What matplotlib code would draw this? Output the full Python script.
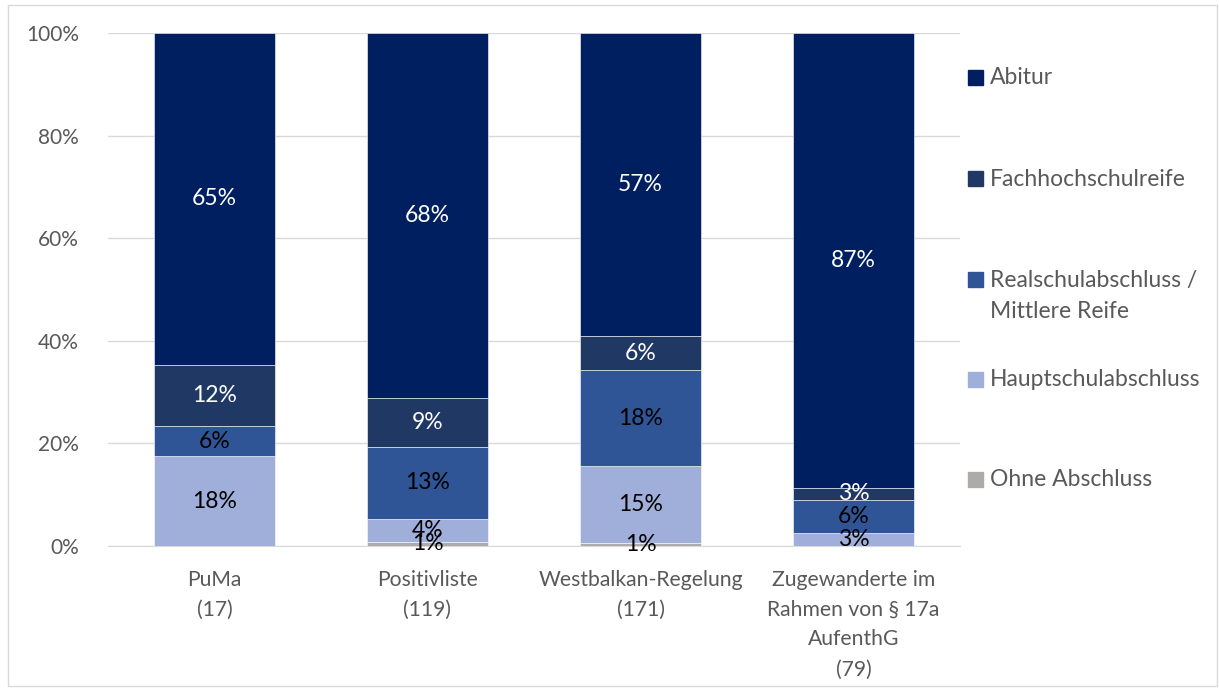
import matplotlib.pyplot as plt
from matplotlib.patches import Rectangle
import numpy as np

plt.rcParams['font.family'] = ['Lato', 'DejaVu Sans']

categories = ['PuMa\n(17)', 'Positivliste\n(119)', 'Westbalkan-Regelung\n(171)',
              'Zugewanderte im\nRahmen von § 17a\nAufenthG\n(79)']
series = ['Ohne Abschluss', 'Hauptschulabschluss', 'Realschulabschluss /\nMittlere Reife',
          'Fachhochschulreife', 'Abitur']

# segment heights (share in %)
ohne = [0.0, 0.8, 0.6, 0.0]
haupt = [17.5, 4.5, 15.0, 2.5]
real = [5.9, 14.0, 18.7, 6.4]
fh = [11.9, 9.5, 6.6, 2.5]
abitur = [64.7, 71.2, 59.1, 88.6]

# printed data labels
ohne_lbl = [None, 1, 1, None]
haupt_lbl = [18, 4, 15, 3]
real_lbl = [6, 13, 18, 6]
fh_lbl = [12, 9, 6, 3]
abitur_lbl = [65, 68, 57, 87]

colors = ['#AEAAAA', '#A0AFDA', '#2F5597', '#203864', '#001F60']
label_colors = ['black', 'black', 'black', 'white', 'white']
text_grey = '#595959'

fig = plt.figure(figsize=(12.19, 6.88), dpi=100)
ax = fig.add_axes([108 / 1219, 1 - 546 / 688, 852 / 1219, 513 / 688])

x = np.arange(len(categories))
bottom = np.zeros(len(categories))
for vals, lbls, col, lcol in zip([ohne, haupt, real, fh, abitur],
                                 [ohne_lbl, haupt_lbl, real_lbl, fh_lbl, abitur_lbl],
                                 colors, label_colors):
    vals = np.array(vals)
    ax.bar(x, vals, width=0.57, bottom=bottom, color=col, edgecolor='#FFFFFF',
           linewidth=0.4, zorder=3)
    for xi, b, v, l in zip(x, bottom, vals, lbls):
        if l is not None:
            ax.text(xi, b + v / 2, f'{l}%', ha='center', va='center',
                    color=lcol, fontsize=16.5, zorder=4)
    bottom += vals

ax.set_xlim(-0.5, 3.5)
ax.set_ylim(0, 100)
ax.set_yticks(np.arange(0, 101, 20))
ax.set_yticklabels([f'{v}%' for v in range(0, 101, 20)])
ax.grid(axis='y', color='#D9D9D9', linewidth=1, zorder=0)
for s in ['top', 'right', 'left']:
    ax.spines[s].set_visible(False)
ax.spines['bottom'].set_color('#D9D9D9')
ax.tick_params(axis='y', length=0, pad=21, labelsize=15, labelcolor=text_grey)
ax.set_xticks(x)
ax.set_xticklabels(categories, fontsize=15.2, color=text_grey, linespacing=1.62)
ax.tick_params(axis='x', length=0, pad=17)

# legend, top entry first; multi-line names get one text per line
legend_y = [78, 179, 280, 380, 480]
for name, col, ly in zip(series[::-1], colors[::-1], legend_y):
    fig.patches.append(Rectangle((968 / 1219, 1 - (ly + 7) / 688), 15 / 1219, 15 / 688,
                                 transform=fig.transFigure, color=col, figure=fig))
    for i, line in enumerate(name.split('\n')):
        fig.text(990 / 1219, 1 - (ly + 31 * i) / 688, line, ha='left', va='center',
                 fontsize=16.5, color=text_grey)

fig.patches.append(Rectangle((8 / 1219, 2 / 688), 1209 / 1219, 681 / 688,
                             transform=fig.transFigure, fill=False,
                             edgecolor='#D9D9D9', linewidth=1, figure=fig))

fig.savefig('out.png', dpi=100)
